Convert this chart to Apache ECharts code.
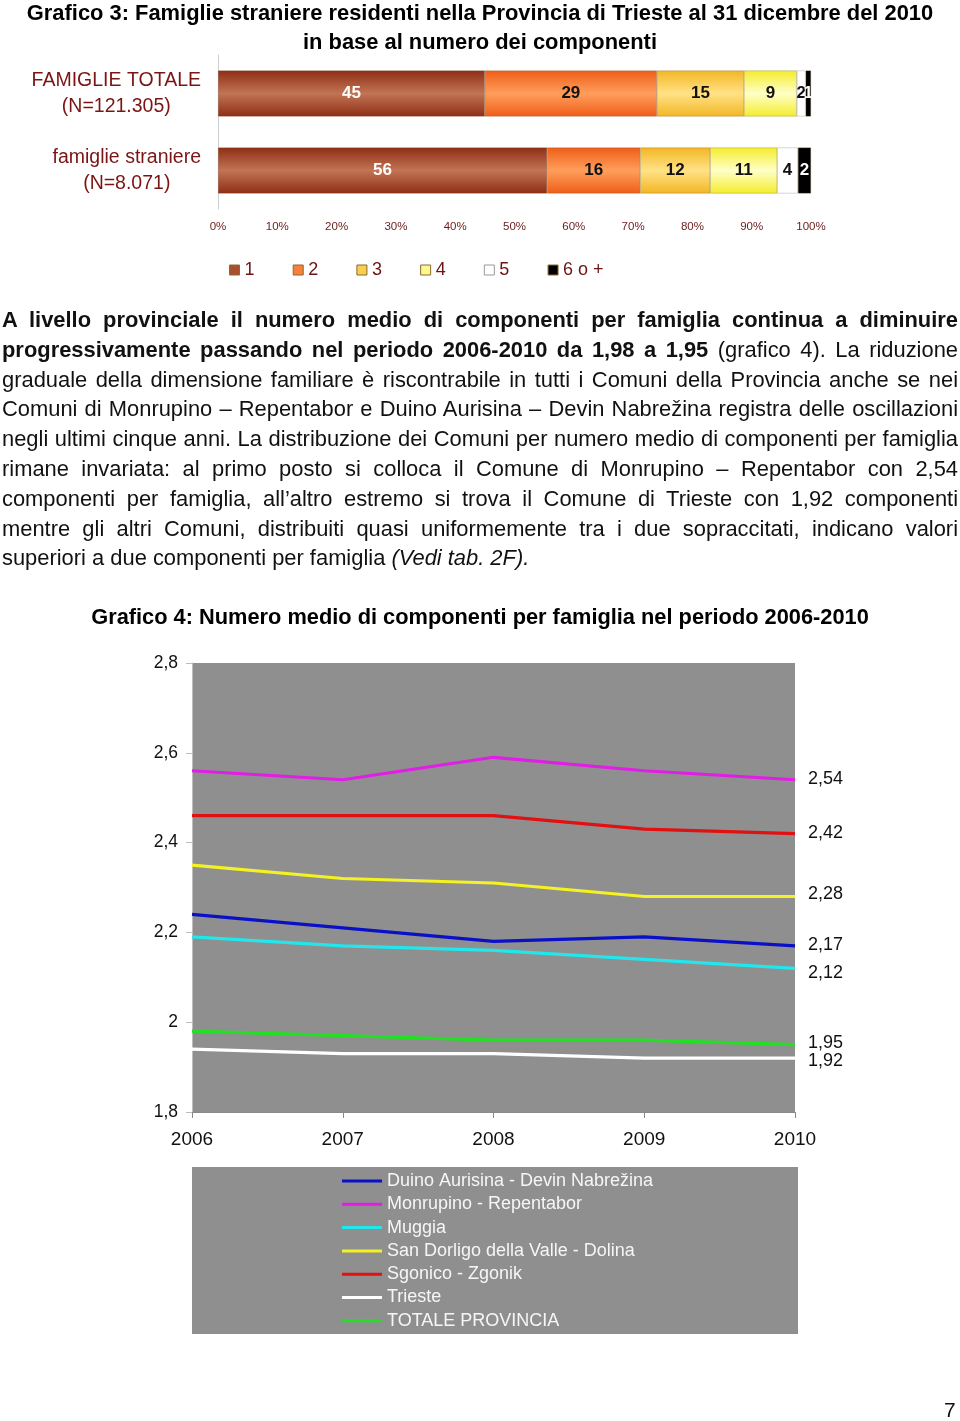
<!DOCTYPE html>
<html><head><meta charset="utf-8">
<script src="https://cdn.jsdelivr.net/npm/echarts@6/dist/echarts.min.js"></script>
<style>
html,body{margin:0;padding:0;background:#fff;}
#chart{position:absolute;left:0;top:0;width:960px;height:1421px;}
#para{position:absolute;left:2px;top:305px;width:956px;font-family:"Liberation Sans",Arial,sans-serif;font-size:21.9px;line-height:29.8px;color:#111;z-index:5;}
#para div{text-align:justify;text-align-last:justify;white-space:nowrap;}
#para div.last{text-align-last:left;}
</style></head>
<body>
<div id="chart"></div>
<div id="para">
<div><b>A livello provinciale il numero medio di componenti per famiglia continua a diminuire</b></div>
<div><b>progressivamente passando nel periodo 2006-2010 da 1,98 a 1,95</b> (grafico 4). La riduzione</div>
<div>graduale della dimensione familiare è riscontrabile in tutti i Comuni della Provincia anche se nei</div>
<div>Comuni di Monrupino – Repentabor e Duino Aurisina – Devin Nabrežina registra delle oscillazioni</div>
<div>negli ultimi cinque anni. La distribuzione dei Comuni per numero medio di componenti per famiglia</div>
<div>rimane invariata: al primo posto si colloca il Comune di Monrupino – Repentabor con 2,54</div>
<div>componenti per famiglia, all’altro estremo si trova il Comune di Trieste con 1,92 componenti</div>
<div>mentre gli altri Comuni, distribuiti quasi uniformemente tra i due sopraccitati, indicano valori</div>
<div class="last">superiori a due componenti per famiglia <i>(Vedi tab. 2F).</i></div>
</div>
<script>
// ---- Grafico 3 data ----
const barCategories = ['FAMIGLIE TOTALE\n(N=121.305)', 'famiglie straniere\n(N=8.071)'];
const sizeNames = ['1', '2', '3', '4', '5', '6 o +'];
const size1 = [45.0, 55.5];
const size2 = [29.0, 15.7];
const size3 = [14.7, 11.8];
const size4 = [8.9, 11.3];
const size5 = [1.5, 3.5];
const size6 = [0.9, 2.2];

// ---- Grafico 4 data ----
const years = ['2006', '2007', '2008', '2009', '2010'];
const lineNames = ['Duino Aurisina - Devin Nabrežina', 'Monrupino - Repentabor', 'Muggia',
  'San Dorligo della Valle - Dolina', 'Sgonico - Zgonik', 'Trieste', 'TOTALE PROVINCIA'];
const duino = [2.24, 2.21, 2.18, 2.19, 2.17];
const monrupino = [2.56, 2.54, 2.59, 2.56, 2.54];
const muggia = [2.19, 2.17, 2.16, 2.14, 2.12];
const sanDorligo = [2.35, 2.32, 2.31, 2.28, 2.28];
const sgonico = [2.46, 2.46, 2.46, 2.43, 2.42];
const trieste = [1.94, 1.93, 1.93, 1.92, 1.92];
const totaleProv = [1.98, 1.97, 1.96, 1.96, 1.95];

const SANS = '"Liberation Sans",Arial,sans-serif';

const grad = (edge, mid) => new echarts.graphic.LinearGradient(0, 0, 0, 1, [
  {offset: 0, color: edge}, {offset: 0.5, color: mid}, {offset: 1, color: edge}]);

const barFills = [grad('#8E2E14', '#C27455'), grad('#EE5E18', '#FF9E5C'), grad('#F3B624', '#FFE286'),
  grad('#F4EC2C', '#FFFFC8'), '#FFFFFF', '#000000'];
const legendSolid = ['#A8502E', '#F7803A', '#F9CF50', '#FBF890', '#FFFFFF', '#000000'];
const labelColors = ['#FFFFFF', '#111', '#111', '#111', '#111', '#FFFFFF'];
const barData = [size1, size2, size3, size4, size5, size6];

const lineData = [duino, monrupino, muggia, sanDorligo, sgonico, trieste, totaleProv];
const lineColors = ['#0A10C8', '#E11EE6', '#22E6EC', '#F4F222', '#E21010', '#FFFFFF', '#22E022'];
const endOffsets = [[0, -1], [0, -1], [0, 5], [0, -2], [0, -1], [0, 3], [0, -2]];

const chart = echarts.init(document.getElementById('chart'), null, {renderer: 'canvas'});

const barSeries = sizeNames.map((n, i) => ({
  name: n, type: 'bar', stack: 'tot', xAxisIndex: 0, yAxisIndex: 0, barWidth: 46,
  data: barData[i],
  itemStyle: {color: barFills[i], borderColor: i === 4 ? '#bbb' : 'rgba(110,80,30,0.45)', borderWidth: 0.6},
  label: {show: true, position: 'inside', formatter: p => Math.round(p.value),
    fontFamily: SANS, fontWeight: 'bold', fontSize: 17, color: labelColors[i]},
  emphasis: {disabled: true}
}));

const lineSeries = lineNames.map((n, i) => ({
  name: n, type: 'line', xAxisIndex: 1, yAxisIndex: 1, symbol: 'none',
  data: lineData[i],
  lineStyle: {width: 3.2, color: lineColors[i]},
  itemStyle: {color: lineColors[i]},
  endLabel: {show: true, formatter: p => String(p.value).replace('.', ','), distance: 13,
    offset: endOffsets[i], fontFamily: SANS, fontSize: 18, color: '#111'},
  emphasis: {disabled: true}
}));

chart.setOption({
  backgroundColor: '#ffffff',
  animation: false,
  title: [
    {text: 'Grafico 3: Famiglie straniere residenti nella Provincia di Trieste al 31 dicembre del 2010\nin base al numero dei componenti',
      left: 'center', top: -1, padding: 0,
      textStyle: {fontFamily: SANS, fontWeight: 'bold', fontSize: 21.9, lineHeight: 29, color: '#000'}},
    {text: 'Grafico 4: Numero medio di componenti per famiglia nel periodo 2006-2010',
      left: 'center', top: 607, padding: 0,
      textStyle: {fontFamily: SANS, fontWeight: 'bold', fontSize: 21.8, color: '#000'}},
    {text: '7', left: 944, top: 1401, padding: 0,
      textStyle: {fontFamily: SANS, fontWeight: 'normal', fontSize: 21, color: '#111'}}
  ],
  graphic: [
    {type: 'rect', left: 192, top: 1167, z: -10, shape: {width: 606, height: 167}, style: {fill: '#8F8F8F'}}
  ],
  legend: [
    {data: sizeNames.map((n, i) => ({name: n, itemStyle: {color: legendSolid[i], borderColor: i === 4 ? '#999' : '#8a6a30', borderWidth: 1}})),
      left: 224, top: 256, icon: 'rect', itemWidth: 10, itemHeight: 10, itemGap: 38.2,
      textStyle: {fontFamily: SANS, fontSize: 18, color: '#6B1414'}, selectedMode: false},
    {data: lineNames, orient: 'vertical', left: 342, top: 1172, icon: 'rect', itemWidth: 40, itemHeight: 3,
      itemGap: 5.3, padding: 0, selectedMode: false,
      textStyle: {fontFamily: SANS, fontSize: 18, color: '#F6F6F6'}}
  ],
  grid: [
    {left: 218, right: 149, top: 55, height: 154, outerBoundsMode: 'none', containLabel: false},
    {left: 192, right: 165, top: 663, height: 449, show: true, backgroundColor: '#8F8F8F', borderWidth: 0,
      outerBoundsMode: 'none', containLabel: false}
  ],
  xAxis: [
    {gridIndex: 0, type: 'value', min: 0, max: 100, interval: 10,
      axisLine: {show: false}, axisTick: {show: false}, splitLine: {show: false},
      axisLabel: {formatter: '{value}%', fontFamily: SANS, fontSize: 11.5, color: '#6B1A1A', margin: 12}},
    {gridIndex: 1, type: 'category', data: years, boundaryGap: false,
      axisLine: {lineStyle: {color: '#8a8a8a', width: 1}},
      axisTick: {show: true, length: 6, lineStyle: {color: '#8a8a8a'}},
      splitLine: {show: false},
      axisLabel: {fontFamily: SANS, fontSize: 19, color: '#111', margin: 18}}
  ],
  yAxis: [
    {gridIndex: 0, type: 'category', inverse: true, data: barCategories,
      axisLine: {show: true, lineStyle: {color: '#cfcfcf'}}, axisTick: {show: false},
      axisLabel: {fontFamily: SANS, fontSize: 19.5, lineHeight: 26, color: '#7B1414', margin: 17, align: 'right',
        formatter: v => v.split('\n').map(s => '{c|' + s + '}').join('\n'),
        rich: {c: {align: 'center', fontFamily: SANS, fontSize: 19.5, lineHeight: 26, color: '#7B1414'}}}},
    {gridIndex: 1, type: 'value', min: 1.8, max: 2.8, interval: 0.2,
      axisLine: {show: true, lineStyle: {color: '#bdbdbd'}},
      axisTick: {show: true, length: 6, lineStyle: {color: '#bdbdbd'}},
      splitLine: {show: false},
      axisLabel: {fontFamily: SANS, fontSize: 17.5, color: '#111', margin: 14,
        formatter: v => String(Math.round(v * 10) / 10).replace('.', ',')}}
  ],
  series: barSeries.concat(lineSeries)
});
</script>
</body></html>
